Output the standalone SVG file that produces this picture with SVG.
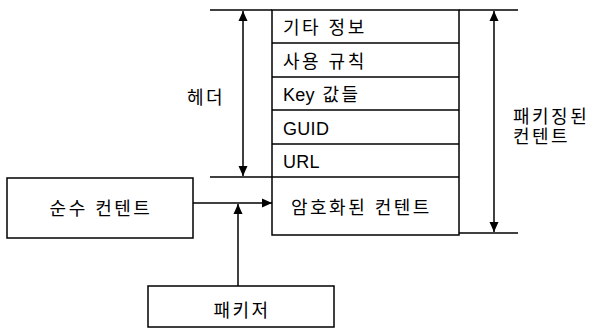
<svg xmlns="http://www.w3.org/2000/svg" width="596" height="329" viewBox="0 0 596 329">
<style>
.b{fill:#fff;stroke:#000;stroke-width:1.5}
.l{stroke:#000;stroke-width:1.5;fill:none}
.t{font-family:"Liberation Sans","Noto Sans CJK KR",sans-serif;font-size:18px;fill:#000;letter-spacing:2.5px}
.e{letter-spacing:0.3px}
</style>
<defs>
<marker id="a" viewBox="0 0 10 10" refX="10" refY="5" markerWidth="12" markerHeight="10" markerUnits="userSpaceOnUse" orient="auto-start-reverse"><path d="M0,0.5 L10,5 L0,9.5 Z" fill="#000"/></marker>
</defs>
<g id="package">
<rect class="b" x="272" y="10" width="187" height="225"/>
<line class="l" x1="272" y1="43" x2="459" y2="43"/>
<line class="l" x1="272" y1="77" x2="459" y2="77"/>
<line class="l" x1="272" y1="110" x2="459" y2="110"/>
<line class="l" x1="272" y1="144" x2="459" y2="144"/>
<line class="l" x1="272" y1="177" x2="459" y2="177"/>
<text class="t" x="283" y="34">기타 정보</text>
<text class="t" x="283" y="68">사용 규칙</text>
<text class="t" x="283" y="101"><tspan class="e">Key</tspan> 값들</text>
<text class="t e" x="283" y="135">GUID</text>
<text class="t e" x="283" y="168">URL</text>
<text class="t" x="291" y="214">암호화된 컨텐트</text>
</g>
<g id="pure">
<rect class="b" x="7" y="178" width="186" height="60"/>
<text class="t" x="101" y="215" text-anchor="middle">순수 컨텐트</text>
</g>
<g id="packager">
<rect class="b" x="148" y="286" width="186" height="41"/>
<text class="t" x="242" y="317" text-anchor="middle">패키저</text>
</g>
<g id="labels">
<text class="t" x="187" y="104">헤더</text>
<text class="t" x="513" y="123">패키징된</text>
<text class="t" x="513" y="143">컨텐트</text>
</g>
<g id="connectors">
<line class="l" x1="210" y1="10" x2="272" y2="10"/>
<line class="l" x1="210" y1="177" x2="272" y2="177"/>
<line class="l" x1="459" y1="10" x2="518" y2="10"/>
<line class="l" x1="459" y1="233" x2="518" y2="233"/>
<line class="l" x1="243" y1="11" x2="243" y2="176" marker-start="url(#a)" marker-end="url(#a)"/>
<line class="l" x1="494" y1="11" x2="494" y2="232" marker-start="url(#a)" marker-end="url(#a)"/>
<line class="l" x1="193" y1="203" x2="272" y2="203" marker-end="url(#a)"/>
<line class="l" x1="238" y1="286" x2="238" y2="204" marker-end="url(#a)"/>
</g>
</svg>
